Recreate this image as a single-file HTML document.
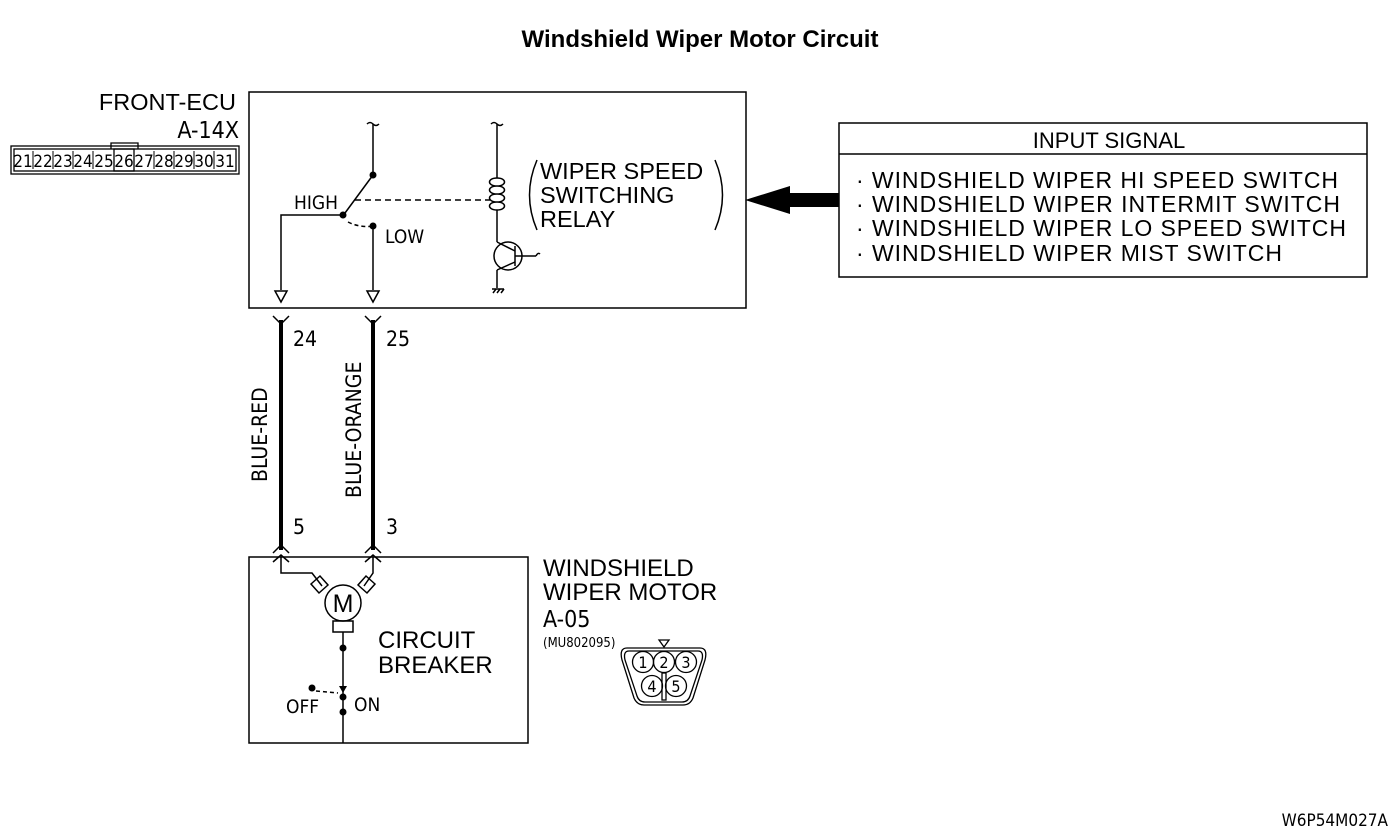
<!DOCTYPE html>
<html><head><style>
body{margin:0;background:#fff;}
svg{display:block;font-family:"Liberation Sans",sans-serif;}
.n{font-family:"DejaVu Sans Condensed","Liberation Sans",sans-serif;}
</style></head><body>
<svg width="1400" height="838" viewBox="0 0 1400 838" xmlns="http://www.w3.org/2000/svg" stroke-linecap="butt">
<text x="700" y="47" text-anchor="middle" font-size="24" font-weight="bold">Windshield Wiper Motor Circuit</text>
<text x="236" y="110" text-anchor="end" font-size="23.5">FRONT-ECU</text>
<text x="239" y="138" text-anchor="end" font-size="23" class="n">A-14X</text>
<g fill="none" stroke="#000" stroke-width="1.3">
<rect x="11" y="146" width="228" height="28"/>
<rect x="14" y="149" width="222" height="22"/>
<path d="M111 149 V143 H138 V149"/>
<rect x="114" y="149" width="20" height="22"/>
</g>
<g font-size="17" text-anchor="middle" class="n">
<text x="23" y="167">21</text><text x="43" y="167">22</text><text x="63" y="167">23</text><text x="83" y="167">24</text><text x="104" y="167">25</text><text x="124" y="167">26</text><text x="144" y="167">27</text><text x="164" y="167">28</text><text x="184" y="167">29</text><text x="204" y="167">30</text><text x="225" y="167">31</text>
</g>
<g stroke="#000" stroke-width="1">
<line x1="33" y1="151" x2="33" y2="169"/><line x1="53" y1="151" x2="53" y2="169"/><line x1="73" y1="151" x2="73" y2="169"/><line x1="93" y1="151" x2="93" y2="169"/><line x1="154" y1="151" x2="154" y2="169"/><line x1="174" y1="151" x2="174" y2="169"/><line x1="194" y1="151" x2="194" y2="169"/><line x1="214" y1="151" x2="214" y2="169"/>
</g>
<g fill="none" stroke="#000" stroke-width="1.5">
<rect x="249" y="92" width="497" height="216"/>
<path d="M367 124 q3 -3 6 0 t6 0"/>
<path d="M491 124 q3 -3 6 0 t6 0"/>
<line x1="373" y1="124" x2="373" y2="175"/>
<line x1="373" y1="175" x2="345" y2="213"/>
<path d="M343 215 H281 V290"/>
<polygon points="275,291 287,291 281,302"/>
<line x1="373" y1="226" x2="373" y2="290"/>
<polygon points="367,291 379,291 373,302"/>
<path d="M348 222 Q360 228 373 226" stroke-dasharray="4,3"/>
<line x1="355" y1="200" x2="490" y2="200" stroke-dasharray="6,4"/>
<line x1="497" y1="124" x2="497" y2="178"/>
<path d="M497 178 c-10 0 -10 8 0 8 c10 0 10 -8 0 -8 M497 186 c-10 0 -10 8 0 8 c10 0 10 -8 0 -8 M497 194 c-10 0 -10 8 0 8 c10 0 10 -8 0 -8 M497 202 c-10 0 -10 8 0 8 c10 0 10 -8 0 -8"/>
<line x1="497" y1="210" x2="497" y2="242"/>
<circle cx="508" cy="256" r="14"/>
<line x1="515" y1="246" x2="515" y2="266"/>
<line x1="515" y1="256" x2="536" y2="256"/>
<path d="M536 256 q2 -4 4 -2"/>
<line x1="497" y1="242" x2="515" y2="251"/>
<line x1="515" y1="262" x2="497" y2="270"/>
<line x1="497" y1="270" x2="497" y2="288"/>
<line x1="492" y1="289" x2="504" y2="289"/>
<path d="M493 293 l3 -4 M497 293 l3 -4 M501 293 l3 -4"/>
<path d="M537 160 Q522 195 537 230"/>
<path d="M715 160 Q730 195 715 230"/>
</g>
<circle cx="373" cy="175" r="3.5"/>
<circle cx="343" cy="215" r="3.5"/>
<circle cx="373" cy="226" r="3.5"/>
<text x="294" y="209" font-size="19" class="n">HIGH</text>
<text x="385" y="243" font-size="19" class="n">LOW</text>
<g font-size="23.5">
<text x="540" y="179">WIPER SPEED</text>
<text x="540" y="203">SWITCHING</text>
<text x="540" y="227">RELAY</text>
</g>
<rect x="839" y="123" width="528" height="154" fill="none" stroke="#000" stroke-width="1.5"/>
<line x1="839" y1="154" x2="1367" y2="154" stroke="#000" stroke-width="1.5"/>
<text x="1109" y="148" font-size="22" text-anchor="middle">INPUT SIGNAL</text>
<g font-size="23">
<text x="856" y="188" textLength="482" lengthAdjust="spacing">· WINDSHIELD WIPER HI SPEED SWITCH</text>
<text x="856" y="212" textLength="484" lengthAdjust="spacing">· WINDSHIELD WIPER INTERMIT SWITCH</text>
<text x="856" y="236" textLength="490" lengthAdjust="spacing">· WINDSHIELD WIPER LO SPEED SWITCH</text>
<text x="856" y="261" textLength="426" lengthAdjust="spacing">· WINDSHIELD WIPER MIST SWITCH</text>
</g>
<polygon points="745,200 790,186 790,193 839,193 839,207 790,207 790,214"/>
<g stroke="#000" fill="none">
<line x1="281" y1="320" x2="281" y2="550" stroke-width="4"/>
<line x1="373" y1="320" x2="373" y2="550" stroke-width="4"/>
<g stroke-width="1.5">
<path d="M273 316 L281 324 L289 316"/><path d="M365 316 L373 324 L381 316"/>
<path d="M273 553 L281 545 L289 553"/><path d="M365 553 L373 545 L381 553"/>
<path d="M273 562 L281 555 L289 562"/><path d="M365 562 L373 555 L381 562"/>
<rect x="249" y="557" width="279" height="186"/>
<path d="M281 557 V573 H312 L322 586"/>
<path d="M373 557 V573 L364 586"/>
<path d="M311 584 l9 -8 l8 9 l-9 8 z"/>
<path d="M375 584 l-9 -8 l-8 9 l9 8 z"/>
<circle cx="343" cy="603" r="18"/>
<rect x="333" y="621" width="20" height="11"/>
<line x1="343" y1="632" x2="343" y2="743"/>
<line x1="316" y1="691" x2="338" y2="693" stroke-dasharray="4,3"/>
</g></g>
<text x="343" y="612" font-size="25" text-anchor="middle">M</text>
<circle cx="343" cy="648" r="3.5"/>
<polygon points="339,686 347,686 343,693"/>
<circle cx="343" cy="697" r="3.5"/><circle cx="343" cy="712" r="3.5"/>
<circle cx="312" cy="688" r="3.5"/>
<text x="286" y="713" font-size="19" class="n">OFF</text>
<text x="354" y="711" font-size="19" class="n">ON</text>
<text x="378" y="648" font-size="24">CIRCUIT</text>
<text x="378" y="673" font-size="24">BREAKER</text>
<g font-size="21" class="n">
<text x="293" y="346">24</text><text x="386" y="346">25</text>
<text x="293" y="534">5</text><text x="386" y="534">3</text>
<text transform="translate(267,482) rotate(-90)">BLUE-RED</text>
<text transform="translate(361,498) rotate(-90)">BLUE-ORANGE</text>
</g>
<g font-size="24">
<text x="543" y="576">WINDSHIELD</text>
<text x="543" y="600">WIPER MOTOR</text>
</g>
<text x="543" y="627" font-size="23" class="n">A-05</text>
<text x="543" y="647" font-size="13" class="n">(MU802095)</text>
<g fill="none" stroke="#000" stroke-width="1.3">
<path d="M627 648 H700 Q708 648 705 660 L693 698 Q690 705 683 705 H644 Q637 705 634 698 L622 660 Q619 648 627 648 Z"/>
<path d="M629 651 H698 Q704 651 702 660 L690 696 Q688 702 682 702 H645 Q639 702 637 696 L625 660 Q623 651 629 651 Z"/>
<polygon points="659,640 669,640 664,647"/>
<circle cx="643" cy="662" r="10.5"/><circle cx="664" cy="662" r="10.5"/><circle cx="686" cy="662" r="10.5"/>
<circle cx="652" cy="686" r="10.5"/><circle cx="676" cy="686" r="10.5"/>
<rect x="662" y="673" width="4" height="27"/>
</g>
<g font-size="16" text-anchor="middle" class="n">
<text x="643" y="668">1</text><text x="664" y="668">2</text><text x="686" y="668">3</text>
<text x="652" y="692">4</text><text x="676" y="692">5</text>
</g>
<text x="1388" y="826" font-size="17" text-anchor="end" class="n">W6P54M027A</text>
</svg>
</body></html>
